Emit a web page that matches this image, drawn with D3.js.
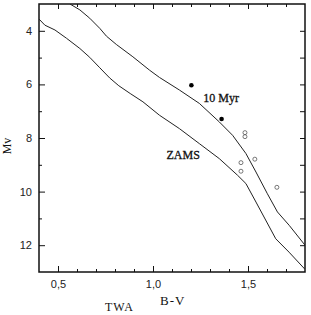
<!DOCTYPE html>
<html>
<head>
  <meta charset="utf-8">
  <title>TWA colour-magnitude diagram</title>
  <script src="https://cdn.jsdelivr.net/npm/d3@7"></script>
  <style>
    body { margin: 0; background: #fff; }
    .axis text { font-family: "Liberation Sans", Arial, sans-serif; font-size: 11px; fill: #222; }
    .axis line { stroke: #111; stroke-width: 1; }
    .axis path { display: none; }
    .curve { fill: none; stroke: #222; stroke-width: 1; }
    .title { font-family: "Liberation Serif", "Times New Roman", serif; fill: #111; }
  </style>
</head>
<body>
<svg id="chart"></svg>
<script>
// isochrones: [B-V, Mv]
var iso10 = [[0.563, 3.0], [0.615, 3.22], [0.667, 3.53], [0.720, 3.91], [0.755, 4.20],
  [0.807, 4.51], [0.894, 4.97], [0.982, 5.47], [1.034, 5.74], [1.139, 6.21],
  [1.244, 6.71], [1.349, 7.40], [1.419, 7.90], [1.489, 8.58], [1.542, 9.27],
  [1.602, 10.08], [1.655, 10.76], [1.717, 11.26], [1.80, 12.0]];
var zams = [[0.4, 3.56], [0.431, 3.79], [0.484, 3.97], [0.545, 4.28], [0.615, 4.66],
  [0.667, 4.99], [0.720, 5.38], [0.772, 5.76], [0.82, 6.05], [0.88, 6.34], [0.947, 6.65],
  [1.034, 7.15], [1.139, 7.65], [1.244, 8.21], [1.349, 8.77], [1.445, 9.39],
  [1.489, 9.70], [1.542, 10.39], [1.646, 11.76], [1.716, 12.26], [1.80, 12.9]];

// stars
var filledStars = [[1.202, 6.03], [1.361, 7.29]];
var openStars = [[1.484, 7.80], [1.484, 7.95], [1.463, 8.92], [1.463, 9.24],
  [1.536, 8.79], [1.652, 9.84]];

// ticks
var xMajor = [0.5, 1.0, 1.5];
var xMinor = [0.6, 0.7, 0.8, 0.9, 1.1, 1.2, 1.3, 1.4, 1.6, 1.7];
var yMajor = [4, 6, 8, 10, 12];
var yMinor = [5, 7, 9, 11];

// curve labels
var curveLabels = [
  { text: '10 Myr', bv: 1.265, mv: 6.64, size: 12 },
  { text: 'ZAMS', bv: 1.071, mv: 8.79, size: 12 }
];

var margin = { top: 4, left: 39, bottom: 43, right: 6 },
  width = 311 - margin.left - margin.right,
  height = 315 - margin.top - margin.bottom;

var svg = d3.select('#chart')
  .attr('width', 311)
  .attr('height', 315)
  .append('g')
  .attr('transform', 'translate(' + margin.left + ',' + margin.top + ')');

var x = d3.scaleLinear().domain([0.4, 1.8]).range([0, width]);
var y = d3.scaleLinear().domain([3, 13]).range([0, height]);

var comma = function (d) { return d3.format('.1f')(d).replace('.', ','); };

// bottom axis
svg.append('g').attr('class', 'axis')
  .attr('transform', 'translate(0,' + height + ')')
  .call(d3.axisBottom(x).tickValues(xMajor).tickSize(-6).tickSizeOuter(0).tickPadding(8).tickFormat(comma));
svg.append('g').attr('class', 'axis')
  .attr('transform', 'translate(0,' + height + ')')
  .call(d3.axisBottom(x).tickValues(xMinor).tickSize(-3).tickSizeOuter(0).tickFormat(''));

// top axis
svg.append('g').attr('class', 'axis')
  .call(d3.axisTop(x).tickValues(xMajor).tickSize(-5).tickSizeOuter(0).tickFormat(''));
svg.append('g').attr('class', 'axis')
  .call(d3.axisTop(x).tickValues(xMinor).tickSize(-3).tickSizeOuter(0).tickFormat(''));

// left axis
svg.append('g').attr('class', 'axis')
  .call(d3.axisLeft(y).tickValues(yMajor).tickSize(-6).tickSizeOuter(0).tickPadding(7).tickFormat(d3.format('d')));
svg.append('g').attr('class', 'axis')
  .call(d3.axisLeft(y).tickValues(yMinor).tickSize(-3).tickSizeOuter(0).tickFormat(''));

// right axis
svg.append('g').attr('class', 'axis')
  .attr('transform', 'translate(' + width + ',0)')
  .call(d3.axisRight(y).tickValues(yMajor.concat(yMinor)).tickSize(-5).tickSizeOuter(0).tickFormat(''));

// frame
svg.append('rect')
  .attr('width', width)
  .attr('height', height)
  .attr('fill', 'none')
  .attr('stroke', '#111')
  .attr('stroke-width', 1.5);

svg.append('clipPath').attr('id', 'clip')
  .append('rect').attr('width', width).attr('height', height);

var line = d3.line()
  .x(function (d) { return x(d[0]); })
  .y(function (d) { return y(d[1]); });

svg.selectAll('.curve')
  .data([iso10, zams])
  .enter()
  .append('path')
  .attr('class', 'curve')
  .attr('clip-path', 'url(#clip)')
  .attr('d', line);

svg.selectAll('.filled')
  .data(filledStars)
  .enter()
  .append('circle')
  .attr('class', 'filled')
  .attr('cx', function (d) { return x(d[0]); })
  .attr('cy', function (d) { return y(d[1]); })
  .attr('r', 2.3)
  .attr('fill', '#000');

svg.selectAll('.open')
  .data(openStars)
  .enter()
  .append('circle')
  .attr('class', 'open')
  .attr('cx', function (d) { return x(d[0]); })
  .attr('cy', function (d) { return y(d[1]); })
  .attr('r', 2)
  .attr('fill', 'none')
  .attr('stroke', '#555')
  .attr('stroke-width', 0.8);

svg.selectAll('.curve-label')
  .data(curveLabels)
  .enter()
  .append('text')
  .attr('class', 'title curve-label')
  .attr('x', function (d) { return x(d.bv); })
  .attr('y', function (d) { return y(d.mv); })
  .style('font-size', function (d) { return d.size + 'px'; })
  .style('stroke', '#111')
  .style('stroke-width', 0.3)
  .text(function (d) { return d.text; });

// axis titles
svg.append('text')
  .attr('class', 'title')
  .attr('transform', 'translate(' + (11 - margin.left) + ',' + (y(8.3)) + ') rotate(-90)')
  .attr('text-anchor', 'middle')
  .style('font-size', '12px')
  .text('Mv');

svg.append('text')
  .attr('class', 'title')
  .attr('x', 105 - margin.left)
  .attr('y', 311 - margin.top)
  .style('font-size', '12px')
  .style('letter-spacing', '1px')
  .text('TWA');

svg.append('text')
  .attr('class', 'title')
  .attr('x', 160 - margin.left)
  .attr('y', 305 - margin.top)
  .style('font-size', '13px')
  .style('letter-spacing', '1px')
  .text('B-V');
</script>
</body>
</html>
